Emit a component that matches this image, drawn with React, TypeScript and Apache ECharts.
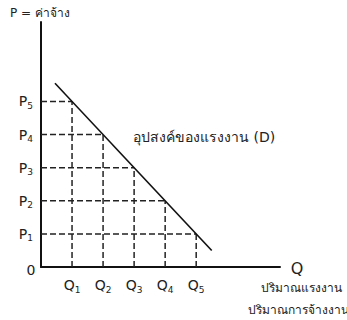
import React, { useEffect, useRef } from "react";
import * as echarts from "echarts";

const qLabels = ["Q1", "Q2", "Q3", "Q4", "Q5"];
const pLabels = ["P1", "P2", "P3", "P4", "P5"];
const qValues = [1, 2, 3, 4, 5];
const pValues = [1, 2, 3, 4, 5];
// demand points: P5 at Q1 ... P1 at Q5
const demandPoints: [number, number][] = [
  [1, 5],
  [2, 4],
  [3, 3],
  [4, 2],
  [5, 1],
];
const demandLine: [number, number][] = [
  [0.45, 5.55],
  [5.5, 0.5],
];
const titleY = "P = ค่าจ้าง";
const titleX = "Q";
const demandLabel = "อุปสงค์ของแรงงาน (D)";
const xNote1 = "ปริมาณแรงงาน";
const xNote2 = "ปริมาณการจ้างงาน";

const FONT = "'DejaVu Sans', 'Noto Sans', sans-serif";

export default function App() {
  const ref = useRef<HTMLDivElement>(null);
  useEffect(() => {
    if (!ref.current) return;
    const chart = echarts.init(ref.current, undefined, { renderer: "svg" });
    const dashStyle = { color: "#222", width: 1.5, type: [6, 3] as any };
    const dashSeries: any[] = [];
    demandPoints.forEach(([q, p]) => {
      dashSeries.push({
        type: "line",
        data: [
          [0, p],
          [q, p],
        ],
        symbol: "none",
        lineStyle: dashStyle,
        silent: true,
      });
      dashSeries.push({
        type: "line",
        data: [
          [q, 0],
          [q, p],
        ],
        symbol: "none",
        lineStyle: dashStyle,
        silent: true,
      });
    });
    const sub = (s: string) => {
      const m = s.match(/^([A-Z])(\d)$/);
      return m ? `{m|${m[1]}}{s|${m[2]}}` : s;
    };
    const richLab = {
      m: { fontSize: 14, color: "#222", fontFamily: FONT },
      s: { fontSize: 9, color: "#222", fontFamily: FONT, padding: [9, 0, 0, 0] },
    };
    chart.setOption({
      animation: false,
      backgroundColor: "#fff",
      grid: { left: 41, top: 22, right: 67, bottom: 53, containLabel: false },
      xAxis: {
        type: "value",
        min: 0,
        max: 7.7,
        interval: 1,
        axisLine: { show: true, lineStyle: { color: "#111", width: 2 } },
        axisTick: { show: false },
        splitLine: { show: false },
        axisLabel: {
          margin: 9,
          showMaxLabel: false,
          formatter: (v: number) => {
            const i = qValues.indexOf(v);
            return i >= 0 ? sub(qLabels[i]) : "";
          },
          rich: richLab,
        },
      },
      yAxis: {
        type: "value",
        min: 0,
        max: 7.4,
        interval: 1,
        axisLine: { show: true, lineStyle: { color: "#111", width: 2 } },
        axisTick: { show: false },
        splitLine: { show: false },
        axisLabel: {
          margin: 8,
          showMaxLabel: false,
          formatter: (v: number) => {
            const i = pValues.indexOf(v);
            return i >= 0 ? sub(pLabels[i]) : "";
          },
          rich: richLab,
        },
      },
      series: [
        ...dashSeries,
        {
          type: "line",
          data: demandLine,
          symbol: "none",
          lineStyle: { color: "#111", width: 1.6 },
          silent: true,
        },
      ],
      graphic: [
        {
          type: "text",
          left: 10,
          top: 7,
          style: { text: titleY, fill: "#222", font: `12px ${FONT}` },
        },
        {
          type: "text",
          x: 31,
          y: 270,
          style: {
            text: "0",
            fill: "#222",
            font: `14px ${FONT}`,
            align: "center",
            verticalAlign: "middle",
          },
        },
        {
          type: "text",
          x: 133,
          y: 137,
          style: {
            text: demandLabel,
            fill: "#222",
            font: `14px ${FONT}`,
            align: "left",
            verticalAlign: "middle",
          },
        },
        {
          type: "text",
          x: 297,
          y: 268,
          style: {
            text: titleX,
            fill: "#222",
            font: `16px ${FONT}`,
            align: "center",
            verticalAlign: "middle",
          },
        },
        {
          type: "text",
          x: 301,
          y: 288,
          style: {
            text: xNote1,
            fill: "#222",
            font: `12px ${FONT}`,
            align: "center",
            verticalAlign: "middle",
          },
        },
        {
          type: "text",
          x: 298,
          y: 310,
          style: {
            text: xNote2,
            fill: "#222",
            font: `12px ${FONT}`,
            align: "center",
            verticalAlign: "middle",
          },
        },
      ],
    });
    return () => chart.dispose();
  }, []);
  return <div ref={ref} style={{ width: 347, height: 320, position: "absolute", left: 0, top: 0 }} />;
}
